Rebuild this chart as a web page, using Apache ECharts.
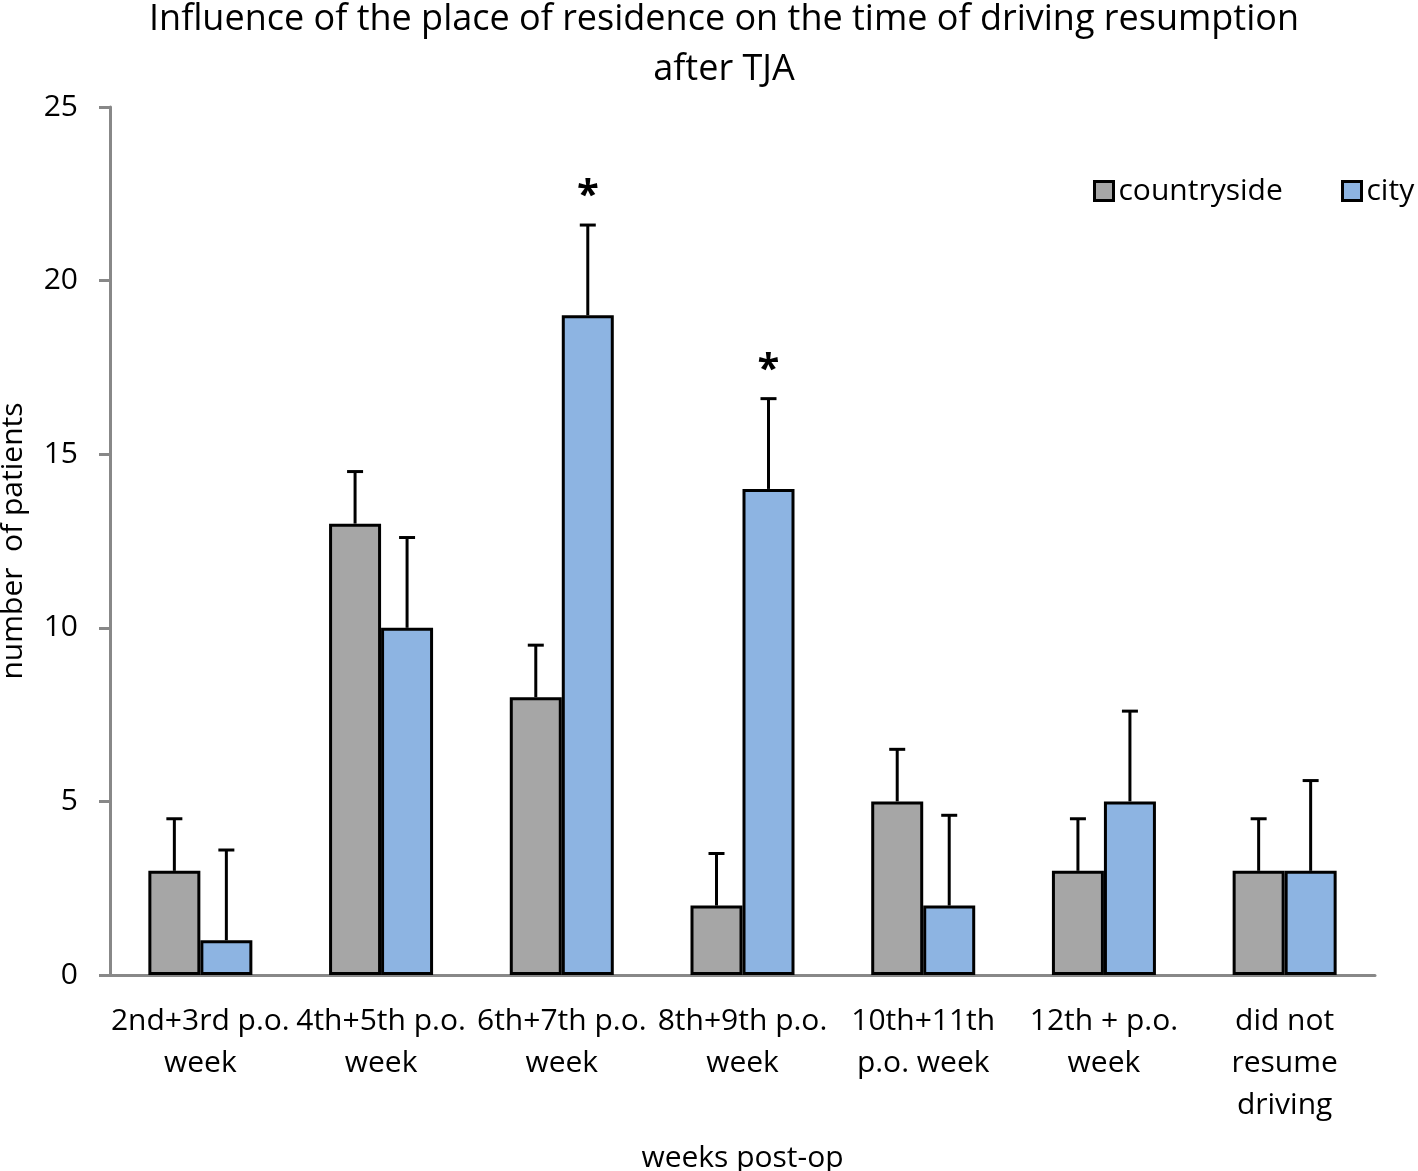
<!DOCTYPE html>
<html>
<head>
<meta charset="utf-8">
<script src="https://cdn.jsdelivr.net/npm/echarts@6/dist/echarts.min.js"></script>
<style>
  html, body { margin: 0; padding: 0; background: #fff; }
  #chart { width: 1418px; height: 1171px; }
</style>
</head>
<body>
<div id="chart"></div>
<script>
// data
var categories = ['2nd+3rd p.o.\nweek', '4th+5th p.o.\nweek', '6th+7th p.o.\nweek', '8th+9th p.o.\nweek', '10th+11th\np.o. week', '12th + p.o.\nweek', 'did not\nresume\ndriving'];
var countryside = [3, 13, 8, 2, 5, 3, 3];
var city = [1, 10, 19, 14, 2, 5, 3];
var countrysideErr = [1.5, 1.5, 1.5, 1.5, 1.5, 1.5, 1.5];
var cityErr = [2.6, 2.6, 2.6, 2.6, 2.6, 2.6, 2.6];
var citySignif = ['', '', '*', '*', '', '', ''];
var yTicks = [0, 5, 10, 15, 20, 25];

var FONT = '"Open Sans"';
var BAR_W = 52;

// error bar (upward only) + optional asterisk above it
function errorBars(values, errs, marks, offset) {
  return {
    type: 'custom',
    z: 5,
    data: values.map(function (v, i) { return [i, v, v + errs[i]]; }),
    renderItem: function (params, api) {
      var i = api.value(0);
      var base = api.coord([i, api.value(1)]);
      var top = api.coord([i, api.value(2)]);
      var x = base[0] + offset;
      var kids = [
        { type: 'line', shape: { x1: x, y1: base[1], x2: x, y2: top[1] }, style: { stroke: '#000', lineWidth: 3 } },
        { type: 'line', shape: { x1: x - 8, y1: top[1], x2: x + 8, y2: top[1] }, style: { stroke: '#000', lineWidth: 3 } }
      ];
      if (marks && marks[i]) {
        kids.push({
          type: 'text',
          style: { text: marks[i], x: x, y: top[1] - 28, align: 'center', verticalAlign: 'middle',
            font: 'bold 40px ' + FONT, fill: '#000' }
        });
      }
      return { type: 'group', children: kids };
    }
  };
}

var legendText = { fontFamily: FONT, fontSize: 30, color: '#000' };
var legendIcon = { borderColor: '#000', borderWidth: 3 };

var chart = echarts.init(document.getElementById('chart'));
chart.setOption({
  animation: false,
  textStyle: { fontFamily: FONT },
  title: {
    text: 'Influence of the place of residence on the time of driving resumption\nafter TJA',
    left: 719, top: -10, textAlign: 'center',
    textStyle: { fontFamily: FONT, fontSize: 36, fontWeight: 'normal', color: '#000', lineHeight: 50 }
  },
  legend: [
    { data: ['countryside'], left: 1093, top: 176, padding: 0, itemWidth: 19, itemHeight: 19, itemGap: 8, icon: 'rect',
      itemStyle: legendIcon, textStyle: legendText },
    { data: ['city'], left: 1341, top: 176, padding: 0, itemWidth: 19, itemHeight: 19, icon: 'rect',
      itemStyle: legendIcon, textStyle: legendText }
  ],
  grid: { left: 110, right: 43, top: 107, bottom: 196, outerBoundsMode: 'none', containLabel: false },
  xAxis: {
    type: 'category',
    data: categories,
    name: 'weeks post-op',
    nameLocation: 'middle',
    nameGap: 168,
    nameTextStyle: { fontFamily: FONT, fontSize: 30, color: '#000' },
    axisLine: { lineStyle: { color: '#888', width: 3 } },
    axisTick: { show: false },
    axisLabel: { interval: 0, margin: 25, fontFamily: FONT, fontSize: 30, color: '#000', lineHeight: 42 }
  },
  yAxis: {
    type: 'value',
    min: yTicks[0], max: yTicks[yTicks.length - 1], interval: 5,
    name: 'number  of patients',
    nameLocation: 'middle',
    nameGap: 82,
    nameTextStyle: { fontFamily: FONT, fontSize: 30, color: '#000' },
    splitLine: { show: false },
    axisLine: { show: true, lineStyle: { color: '#888', width: 3 } },
    axisTick: { show: true, length: 11, lineStyle: { color: '#888', width: 3 } },
    axisLabel: { margin: 32, fontFamily: FONT, fontSize: 30, color: '#000' }
  },
  series: [
    { name: 'countryside', type: 'bar', data: countryside, barWidth: BAR_W, barGap: '0%',
      itemStyle: { color: '#a6a6a6', borderColor: '#000', borderWidth: 3 } },
    { name: 'city', type: 'bar', data: city, barWidth: BAR_W, barGap: '0%',
      itemStyle: { color: '#8db4e2', borderColor: '#000', borderWidth: 3 } },
    errorBars(countryside, countrysideErr, null, -BAR_W / 2),
    errorBars(city, cityErr, citySignif, BAR_W / 2)
  ]
});
</script>
</body>
</html>
